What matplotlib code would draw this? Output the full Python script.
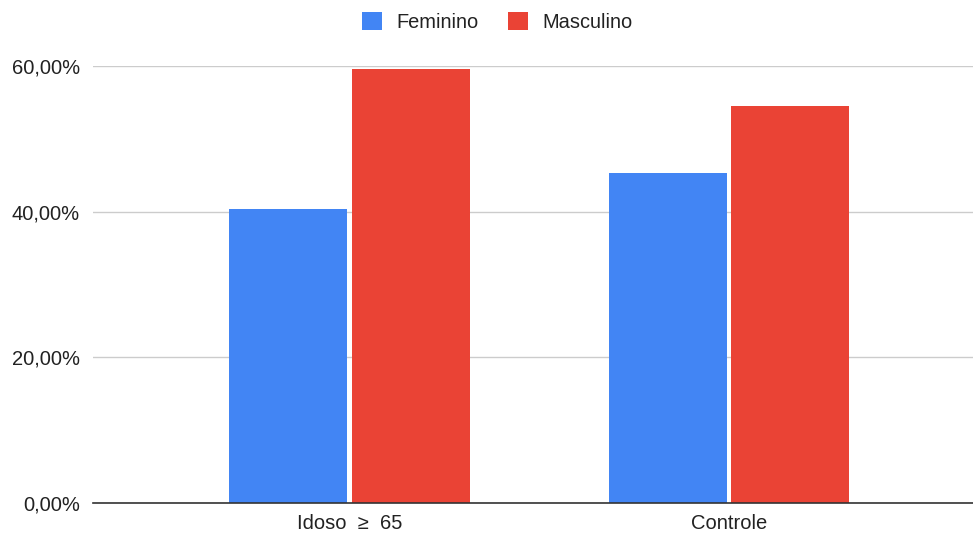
import matplotlib.pyplot as plt
import numpy as np
from matplotlib.patches import Patch

# dados
categorias = ["Idoso  ≥  65", "Controle"]
feminino = [40.4, 45.4]
masculino = [59.6, 54.6]
yticks = [0, 20, 40, 60]

plt.rcParams['font.family'] = ['Liberation Sans', 'DejaVu Sans']

fig = plt.figure(figsize=(9.73, 5.34), dpi=100)
ax = fig.add_axes([0.0956, 0.058, 0.9044, 0.818])

x = np.arange(len(categorias))
w = 0.311
off = 0.161
cor_f = '#4285F4'
cor_m = '#EA4335'

ax.bar(x - off, feminino, w, color=cor_f, zorder=3, clip_on=False)
ax.bar(x + off, masculino, w, color=cor_m, zorder=3, clip_on=False)

ax.set_xlim(-0.676, 1.643)
ax.set_ylim(0, 60)
ax.set_yticks(yticks)
ax.set_yticklabels([f"{v:.2f}".replace('.', ',') + "%" for v in yticks],
                   fontsize=14.5, color='#222222')
ax.set_xticks(x)
ax.set_xticklabels(categorias, fontsize=14.5, color='#222222')

ax.tick_params(axis='both', length=0)
ax.tick_params(axis='y', pad=9.5)
ax.tick_params(axis='x', pad=8)
ax.yaxis.grid(True, color='#cccccc', linewidth=1, zorder=0)
for s in ['top', 'right', 'left']:
    ax.spines[s].set_visible(False)
ax.spines['bottom'].set_color('#333333')
ax.spines['bottom'].set_linewidth(1.2)
ax.spines['bottom'].set_zorder(4)

handles = [Patch(facecolor=cor_f, label='Feminino'),
           Patch(facecolor=cor_m, label='Masculino')]
fig.legend(handles=handles, loc='center', bbox_to_anchor=(0.511, 0.959), ncol=2,
           frameon=False, fontsize=14.4, handlelength=1.0, handleheight=1.0,
           handletextpad=0.75, columnspacing=1.45, labelcolor='#222222')

fig.savefig('out.png', dpi=100)
